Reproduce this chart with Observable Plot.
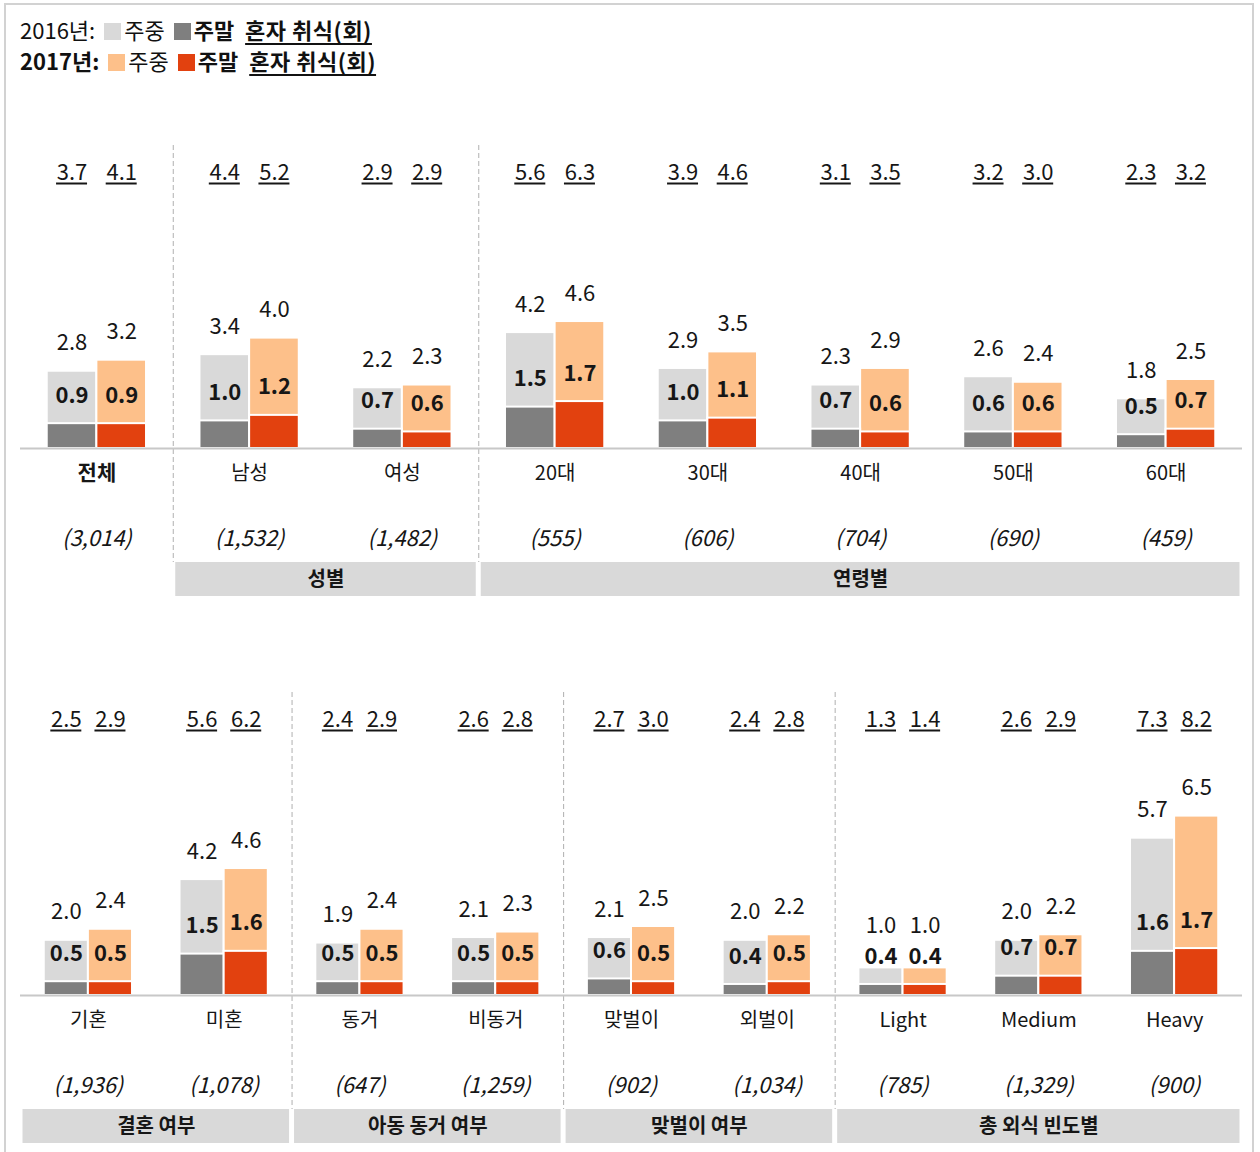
<!DOCTYPE html>
<html><head><meta charset="utf-8">
<script src="https://cdn.jsdelivr.net/npm/d3@7"></script>
<script src="https://cdn.jsdelivr.net/npm/@observablehq/plot@0.6"></script>
<style>
body{margin:0;background:#fff;font-family:"Noto Sans CJK KR","Noto Sans",sans-serif;overflow:hidden}
#wrap{position:relative;width:1260px;height:1152px;overflow:hidden;background:#fff}
#frame{position:absolute;left:4px;top:3px;width:1250px;height:1200px;border:2px solid #d2d2d2;box-sizing:border-box}
#legend{position:absolute;left:20px;top:14px;font-size:22px;line-height:31px;color:#111;white-space:nowrap}
.sq{display:inline-block;width:17px;height:17px;vertical-align:-1px;margin:0 3px 0 9px}
.u{text-decoration:underline;text-decoration-thickness:2px;text-underline-offset:4px;margin-left:6px;letter-spacing:0.5px}
.panel{position:absolute;left:0}
</style></head>
<body>
<div id="wrap">
  <div id="frame"></div>
  <div id="legend">
    <div><span>2016년:</span><span class="sq" style="background:#d9d9d9"></span><span>주중</span><span class="sq" style="background:#7f7f7f"></span><b>주말</b> <span class="u"><b style="font-weight:600">혼자 취식(회)</b></span></div>
    <div><b>2017년:</b><span class="sq" style="background:#fdc08a"></span><span>주중</span><span class="sq" style="background:#e2410f"></span><b>주말</b> <span class="u"><b style="font-weight:600">혼자 취식(회)</b></span></div>
  </div>
  <div id="p1" class="panel" style="top:100px"></div>
  <div id="p2" class="panel" style="top:647px"></div>
</div>
<script>
// ---- top panel data ----
const topCats    = ["전체","남성","여성","20대","30대","40대","50대","60대"];
const topSamples = ["(3,014)","(1,532)","(1,482)","(555)","(606)","(704)","(690)","(459)"];
const topGroupOf = [null,"성별","성별","연령별","연령별","연령별","연령별","연령별"];
const topWd16 = [2.8,3.4,2.2,4.2,2.9,2.3,2.6,1.8];
const topWe16 = [0.9,1.0,0.7,1.5,1.0,0.7,0.6,0.5];
const topWd17 = [3.2,4.0,2.3,4.6,3.5,2.9,2.4,2.5];
const topWe17 = [0.9,1.2,0.6,1.7,1.1,0.6,0.6,0.7];
const topTot16 = [3.7,4.4,2.9,5.6,3.9,3.1,3.2,2.3];
const topTot17 = [4.1,5.2,2.9,6.3,4.6,3.5,3.0,3.2];

// ---- bottom panel data ----
const botCats    = ["기혼","미혼","동거","비동거","맞벌이","외벌이","Light","Medium","Heavy"];
const botSamples = ["(1,936)","(1,078)","(647)","(1,259)","(902)","(1,034)","(785)","(1,329)","(900)"];
const botGroupOf = ["결혼 여부","결혼 여부","아동 동거 여부","아동 동거 여부","맞벌이 여부","맞벌이 여부","총 외식 빈도별","총 외식 빈도별","총 외식 빈도별"];
const botWd16 = [2.0,4.2,1.9,2.1,2.1,2.0,1.0,2.0,5.7];
const botWe16 = [0.5,1.5,0.5,0.5,0.6,0.4,0.4,0.7,1.6];
const botWd17 = [2.4,4.6,2.4,2.3,2.5,2.2,1.0,2.2,6.5];
const botWe17 = [0.5,1.6,0.5,0.5,0.5,0.5,0.4,0.7,1.7];
const botTot16 = [2.5,5.6,2.4,2.6,2.7,2.4,1.3,2.6,7.3];
const botTot17 = [2.9,6.2,2.9,2.8,3.0,2.8,1.4,2.9,8.2];

const C = {wd16:"#d9d9d9", we16:"#7f7f7f", wd17:"#fdc08a", we17:"#e2410f", band:"#d9d9d9", base:"#c8c8c8", sep:"#b0b0b0", ink:"#161616"};
const FONT = '"Noto Sans CJK KR","Noto Sans",sans-serif';
const W = 0.325;      // bar width in category units
const YMAX = 10;      // totals row sits at the top of the value axis

function panel(cats, samples, groupOf, wd16, we16, wd17, we17, tot16, tot17, boldFirst) {
  const n = cats.length;
  const unitPx = (1260 - 20 - 18) / n;
  const ulInset = (W * unitPx - 31) / 2;
  const rows = cats.map((c, i) => ({i, c, s: samples[i], wd16: wd16[i], we16: we16[i], wd17: wd17[i], we17: we17[i], t16: tot16[i], t17: tot17[i]}));
  const groups = [];
  groupOf.forEach((g, i) => {
    if (!g) return;
    const last = groups[groups.length - 1];
    if (last && last.name === g) last.to = i; else groups.push({name: g, from: i, to: i});
  });
  const seps = [];
  for (let i = 1; i < n; i++) if (groupOf[i] !== groupOf[i - 1]) seps.push(i - 0.5);
  const fmt = v => v.toFixed(1);
  const lab = (wd, we) => Math.max(wd, we + 1.1);
  const common = {fontFamily: FONT, fill: C.ink, lineAnchor: "middle"};
  return Plot.plot({
    width: 1260, height: 500,
    marginTop: 45, marginBottom: 4, marginLeft: 20, marginRight: 18,
    style: {fontFamily: FONT, background: "transparent", overflow: "visible"},
    x: {domain: [-0.5, n - 0.5], axis: null},
    y: {domain: [0, YMAX], range: [348, 72], axis: null},
    marks: [
      Plot.ruleX(seps, {x: d => d, stroke: C.sep, strokeWidth: 1, strokeDasharray: "5,3", insetBottom: 34}),
      Plot.rect(groups, {x1: d => d.from - 0.5, x2: d => d.to + 0.5, fill: C.band, insetTop: 417, insetLeft: 2.5, insetRight: 2.5}),
      Plot.text(groups, {x: d => (d.from + d.to) / 2, text: "name", frameAnchor: "bottom", dy: -17, fontWeight: "bold", fontSize: 20, ...common}),
      // bars
      Plot.rect(rows, {x1: d => d.i - W, x2: d => d.i, y1: 0, y2: "wd16", fill: C.wd16, stroke: "#fff", strokeWidth: 2}),
      Plot.rect(rows, {x1: d => d.i, x2: d => d.i + W, y1: 0, y2: "wd17", fill: C.wd17, stroke: "#fff", strokeWidth: 2}),
      Plot.rect(rows, {x1: d => d.i - W, x2: d => d.i, y1: 0, y2: "we16", fill: C.we16, stroke: "#fff", strokeWidth: 2}),
      Plot.rect(rows, {x1: d => d.i, x2: d => d.i + W, y1: 0, y2: "we17", fill: C.we17, stroke: "#fff", strokeWidth: 2}),
      Plot.ruleY([0], {stroke: C.base, strokeWidth: 2}),
      // value labels
      Plot.text(rows, {x: d => d.i - W / 2, y: d => lab(d.wd16, d.we16), text: d => fmt(d.wd16), dy: -28, fontSize: 22, ...common}),
      Plot.text(rows, {x: d => d.i + W / 2, y: d => lab(d.wd17, d.we17), text: d => fmt(d.wd17), dy: -28, fontSize: 22, ...common}),
      Plot.text(rows, {x: d => d.i - W / 2, y: "we16", text: d => fmt(d.we16), dy: -28, fontSize: 22, fontWeight: 600, ...common}),
      Plot.text(rows, {x: d => d.i + W / 2, y: "we17", text: d => fmt(d.we17), dy: -28, fontSize: 22, fontWeight: 600, ...common}),
      // totals (underlined)
      Plot.text(rows, {x: d => d.i - W / 2, y: YMAX, text: d => fmt(d.t16), fontSize: 22, ...common}),
      Plot.text(rows, {x: d => d.i + W / 2, y: YMAX, text: d => fmt(d.t17), fontSize: 22, ...common}),
      Plot.ruleY(rows, {y: YMAX, x1: d => d.i - W, x2: d => d.i, dy: 11, insetLeft: ulInset, insetRight: ulInset, stroke: C.ink, strokeWidth: 2}),
      Plot.ruleY(rows, {y: YMAX, x1: d => d.i, x2: d => d.i + W, dy: 11, insetLeft: ulInset, insetRight: ulInset, stroke: C.ink, strokeWidth: 2}),
      // category labels
      Plot.text(rows.filter(d => !(boldFirst && d.i === 0)), {x: "i", text: "c", frameAnchor: "bottom", dy: -123, fontSize: 20, ...common}),
      Plot.text(rows.filter(d => boldFirst && d.i === 0), {x: "i", text: "c", frameAnchor: "bottom", dy: -123, fontSize: 21, fontWeight: "bold", ...common}),
      // sample sizes
      Plot.text(rows, {x: "i", text: "s", frameAnchor: "bottom", dy: -58, fontSize: 22, fontStyle: "italic", ...common})
    ]
  });
}

document.getElementById("p1").appendChild(panel(topCats, topSamples, topGroupOf, topWd16, topWe16, topWd17, topWe17, topTot16, topTot17, true));
document.getElementById("p2").appendChild(panel(botCats, botSamples, botGroupOf, botWd16, botWe16, botWd17, botWe17, botTot16, botTot17, false));
</script>
</body></html>
